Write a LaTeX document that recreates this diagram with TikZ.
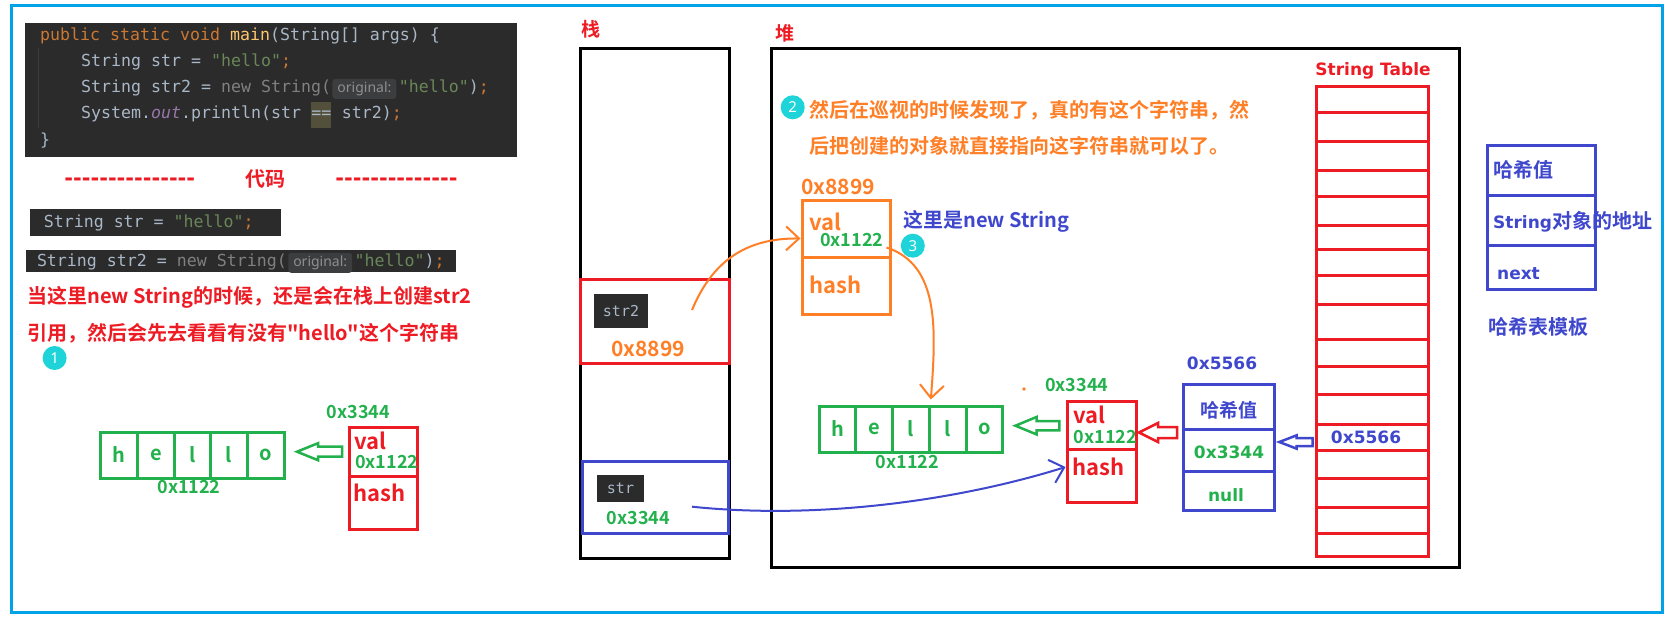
\documentclass[tikz,border=0pt]{standalone}
\usepackage{fontspec}
\setmainfont{Noto Sans CJK SC}
\setmonofont{DejaVu Sans Mono}
\newfontfamily\yh{Noto Sans CJK SC Bold}
\newfontfamily\dv{DejaVu Sans}
\newfontfamily\hintf{Noto Sans}
\usetikzlibrary{positioning,arrows.meta,calc}
\definecolor{frm}{HTML}{00A2E8}
\definecolor{pred}{HTML}{ED1C24}
\definecolor{pgrn}{HTML}{22B14C}
\definecolor{porg}{HTML}{FF7F27}
\definecolor{pind}{HTML}{3F48CC}
\definecolor{cyn}{RGB}{30,212,216}
\definecolor{cbg}{HTML}{2B2B2B}
\definecolor{cfg}{HTML}{A9B7C6}
\definecolor{ckw}{HTML}{CC7832}
\definecolor{cfn}{HTML}{FFC66D}
\definecolor{cstr}{HTML}{6A8759}
\definecolor{cpur}{HTML}{9876AA}
\definecolor{cgry}{HTML}{808080}
\definecolor{chbg}{HTML}{3B3D3E}
\definecolor{chfg}{HTML}{8F8F8F}
\definecolor{ceq}{HTML}{52503A}
\tikzset{
    >=Stealth,
    note/.style={inner sep=0pt, font=\yh\fontsize{20}{24}\selectfont},
    field/.style={inner sep=0pt, anchor=west, font=\yh\fontsize{22}{24}\selectfont},
    addr/.style={inner sep=0pt, text=pgrn, font=\yh\fontsize{18}{20}\selectfont},
    tbl/.style={inner sep=0pt, font=\dv\bfseries\fontsize{17}{20}\selectfont},
    dashrow/.style={inner sep=0pt, text=pred, font=\dv\bfseries\fontsize{21}{24}\selectfont},
    javatxt/.style={inner sep=0pt, anchor=base west, text=cfg, font=\ttfamily\fontsize{16.6}{20}\selectfont},
    hintbox/.style={anchor=base west, fill=chbg, text=chfg, rounded corners=3pt, inner xsep=5pt, inner ysep=3pt, font=\hintf\fontsize{14}{16}\selectfont},
    varbox/.style={fill=cbg, text=cfg, inner sep=0pt, font=\ttfamily\fontsize{15}{18}\selectfont},
    membox/.style={draw, line width=3pt, inner sep=0pt},
    cell/.style={membox, draw=pgrn, minimum width=36.7pt, minimum height=46pt, text=pgrn, font=\yh\fontsize{20}{24}\selectfont},
    numdot/.style={circle, fill=cyn, text=white, minimum size=24pt, inner sep=0pt, font=\hintf\fontsize{15}{16}\selectfont},
    blockarr/.style={line width=2.5pt, draw=#1, fill=white},
    refline/.style={line width=2pt, -{Straight Barb[length=13pt,width=24pt]}}
}
\begin{document}
\begin{tikzpicture}[x=1pt, y=-1pt]
    \useasboundingbox (0,0) rectangle (1671,618);
    \fill[white] (0,0) rectangle (1671,618);
    \draw[frm, line width=3pt] (11,5.5) rectangle (1662,612.5);

    % code
    \fill[cbg] (25,23) rectangle (517,157);
    \draw[chbg, line width=1pt] (38,48) -- (38,128);
    \node[javatxt] (c1) at (40,40.5) {{\color{ckw}public static void} {\color{cfn}main}(String[] args) \{};
    \node[javatxt] (c2) at (81,66.5) {String str = {\color{cstr}"hello"}{\color{ckw};}};
    \node[javatxt] (c3) at (81,92.5) {String str2 = {\color{cgry}new String(}};
    \node[hintbox] (c3h) at ([xshift=1pt]c3.base east) {original:};
    \node[javatxt] (c3b) at ([xshift=2pt]c3h.base east) {{\color{cstr}"hello"}){\color{ckw};}};
    \node[javatxt] (c4) at (81,118.5) {System.{\color{cpur}\itshape out}.println(str};
    \node[javatxt, fill=ceq, inner ysep=3pt] (c4e) at ([xshift=10pt]c4.base east) {\strut==};
    \node[javatxt] (c4b) at ([xshift=10pt]c4e.base east) {str2){\color{ckw};}};
    \node[javatxt] (c5) at (40,145.5) {\}};

    \node[dashrow] (dl) at (129.8,181.5) {\foreach \k in {1,...,15}{-}};
    \node[note, text=pred] (dm) at (265.5,179) {代码};
    \node[dashrow] (dr) at (396.5,181.5) {\foreach \k in {1,...,14}{-}};

    \fill[cbg] (30,209) rectangle (281,236);
    \node[javatxt] (d1) at (43.6,227.5) {String str = {\color{cstr}"hello"}{\color{ckw};}};
    \fill[cbg] (26,250) rectangle (456,272);
    \node[javatxt] (d2) at (36.8,266.5) {String str2 = {\color{cgry}new String(}};
    \node[hintbox] (d2h) at ([xshift=1pt]d2.base east) {original:};
    \node[javatxt] (d2b) at ([xshift=2pt]d2h.base east) {{\color{cstr}"hello"}){\color{ckw};}};

    \node[note, text=pred, anchor=west] (t1) at (27,297) {当这里new String的时候，还是会在栈上创建str2};
    \node[note, text=pred, anchor=west] (t2) at (27,333) {引用，然后会先去看看有没有"hello"这个字符串};
    \node[numdot] (n1) at (54.6,358) {1};

    % old picture, left
    \node[addr] (a0) at (358.5,411.7) {0x3344};
    \foreach \ch [count=\i] in {h,e,l,l,o}
        \node[cell] (a\i) at (82.7+36.6*\i,455) {\ch};
    \node[addr] (aa) at (189,487) {0x1122};
    \node[membox, draw=pred, minimum width=68pt, minimum height=49pt] (rv1) at (383,451.5) {};
    \node[membox, draw=pred, minimum width=68pt, minimum height=53pt] (rh1) at (383,502.5) {};
    \node[field, text=pred] at (354,441) {val};
    \node[addr, anchor=west] at (355,462) {0x1122};
    \node[field, text=pred] at (353,493) {hash};
    \draw[blockarr=pgrn] (297,451.7) -- (318,443.2) -- (318,446.7) -- (342,446.7)
        -- (342,456.7) -- (318,456.7) -- (318,460.2) -- cycle;

    % stack
    \node[note, text=pred, font=\yh\fontsize{19}{22}\selectfont] (lz) at (590.6,29.3) {栈};
    \node[membox, minimum width=149.5pt, minimum height=509pt] (stack) at (654.75,303.5) {};
    \node[membox, draw=pred, minimum width=149.5pt, minimum height=84.3pt] (s2box) at (654.75,321.15) {};
    \node[varbox, minimum width=54pt, minimum height=34pt] (v2) at (621,311) {str2};
    \node[note, text=porg, font=\yh\fontsize{21}{24}\selectfont] at (648,349) {0x8899};
    \node[membox, draw=pind, minimum width=146pt, minimum height=72pt] (sbox) at (655,497) {};
    \node[varbox, minimum width=47pt, minimum height=27pt] (v1) at (620.5,488.5) {str};
    \node[addr] at (638.3,517.7) {0x3344};
    \coordinate (s2tail) at (692,310);
    \coordinate (s1tail) at (692,506.7);

    % heap
    \node[note, text=pred, font=\yh\fontsize{19}{22}\selectfont] (ld) at (785,33) {堆};
    \node[membox, minimum width=688pt, minimum height=518.5pt] (heap) at (1115,307.75) {};
    \node[numdot] (n2) at (792.7,107.3) {2};
    \node[note, text=porg, anchor=west] (o1) at (808.8,110) {然后在巡视的时候发现了，真的有这个字符串，然};
    \node[note, text=porg, anchor=west] (o2) at (808.8,145.7) {后把创建的对象就直接指向这字符串就可以了。};

    \node[note, text=porg, font=\yh\fontsize{21}{24}\selectfont] at (838,187) {0x8899};
    \node[membox, draw=porg, minimum width=88pt, minimum height=57pt] (ov) at (846,228.5) {};
    \node[membox, draw=porg, minimum width=88pt, minimum height=57pt] (oh) at (846,285.5) {};
    \node[field, text=porg] at (809.5,221.7) {val};
    \node[addr, anchor=west] at (820,240) {0x1122};
    \node[field, text=porg] at (809.5,285) {hash};
    \node[note, text=pind, anchor=west] (nt) at (903,221.7) {这里是new String};
    \node[numdot] (n3) at (912.8,245.7) {3};

    \fill[porg] (1024,389) circle (1.8pt);
    \node[addr] at (1076.7,385) {0x3344};
    \foreach \ch [count=\i] in {h,e,l,l,o}
        \node[cell] (b\i) at (800.6+36.8*\i,429) {\ch};
    \node[addr] at (907.3,461.7) {0x1122};
    \draw[blockarr=pgrn] (1015.4,425.7) -- (1036.5,417) -- (1036.5,421) -- (1059.4,421)
        -- (1059.4,430.4) -- (1036.5,430.4) -- (1036.5,434.4) -- cycle;

    \node[membox, draw=pred, minimum width=69pt, minimum height=48.3pt] (rv2) at (1101.5,425.15) {};
    \node[membox, draw=pred, minimum width=69pt, minimum height=53.4pt] (rh2) at (1101.5,476) {};
    \node[field, text=pred] at (1073,415) {val};
    \node[addr, anchor=west] at (1073.6,436.7) {0x1122};
    \node[field, text=pred] at (1072,466.7) {hash};
    \draw[blockarr=pred] (1139,432.5) -- (1158,423) -- (1158,427) -- (1177,427)
        -- (1177,438) -- (1158,438) -- (1158,442) -- cycle;

    \node[tbl, text=pind] at (1222,363) {0x5566};
    \node[membox, draw=pind, minimum width=91pt, minimum height=45.5pt] (bh) at (1228.5,406.75) {};
    \node[membox, draw=pind, minimum width=91pt, minimum height=41.5pt] (ba) at (1228.5,450.25) {};
    \node[membox, draw=pind, minimum width=91pt, minimum height=39pt] (bn) at (1228.5,490.5) {};
    \node[note, text=pind, font=\yh\fontsize{19}{22}\selectfont] at (1229,410.6) {哈希值};
    \node[tbl, text=pgrn] at (1229,452) {0x3344};
    \node[tbl, text=pgrn] at (1226,495) {null};
    \draw[blockarr=pind] (1279.3,442) -- (1296.7,435.3) -- (1296.7,438) -- (1312.7,438)
        -- (1312.7,446) -- (1296.7,446) -- (1296.7,448.7) -- cycle;

    % string table
    \node[tbl, text=pred] at (1373,71) {String Table};
    \node[membox, draw=pred, minimum width=112pt, minimum height=469pt] (st) at (1372,321.5) {};
    \foreach \y in {112.5,141.3,170.5,196.2,225,249.5,275.6,304.8,339.5,366,394.8,424.4,450,478.5,507.3,533}
        \draw[pred, line width=3pt] (st.west |- 0,\y) -- (st.east |- 0,\y);
    \node[tbl, text=pind] at (1366,437) {0x5566};

    % template
    \node[membox, draw=pind, minimum width=108pt, minimum height=50pt] (th) at (1541,170) {};
    \node[membox, draw=pind, minimum width=108pt, minimum height=50pt] (ta) at (1541,220) {};
    \node[membox, draw=pind, minimum width=108pt, minimum height=44pt] (tn) at (1541,267) {};
    \node[note, text=pind] at (1523,170) {哈希值};
    \node[note, text=pind, anchor=west] at (1493,222) {{\dv\bfseries\fontsize{17}{20}\selectfont String}对象的地址};
    \node[tbl, text=pind] at (1518.5,274) {next};
    \node[note, text=pind, anchor=west] at (1488,327) {哈希表模板};

    % references
    \draw[refline, porg] (s2tail) .. controls (712,262) and (745,238) .. ([yshift=-10pt]ov.west);
    \draw[refline, porg] ([shift={(-5pt,11pt)}]ov.south east) .. controls (940,265) and (936,330) .. ([yshift=5pt]b3.north east);
    \draw[refline, pind] (s1tail) .. controls (820,520) and (960,500) .. ([yshift=9pt]rh2.west);
\end{tikzpicture}
\end{document}
